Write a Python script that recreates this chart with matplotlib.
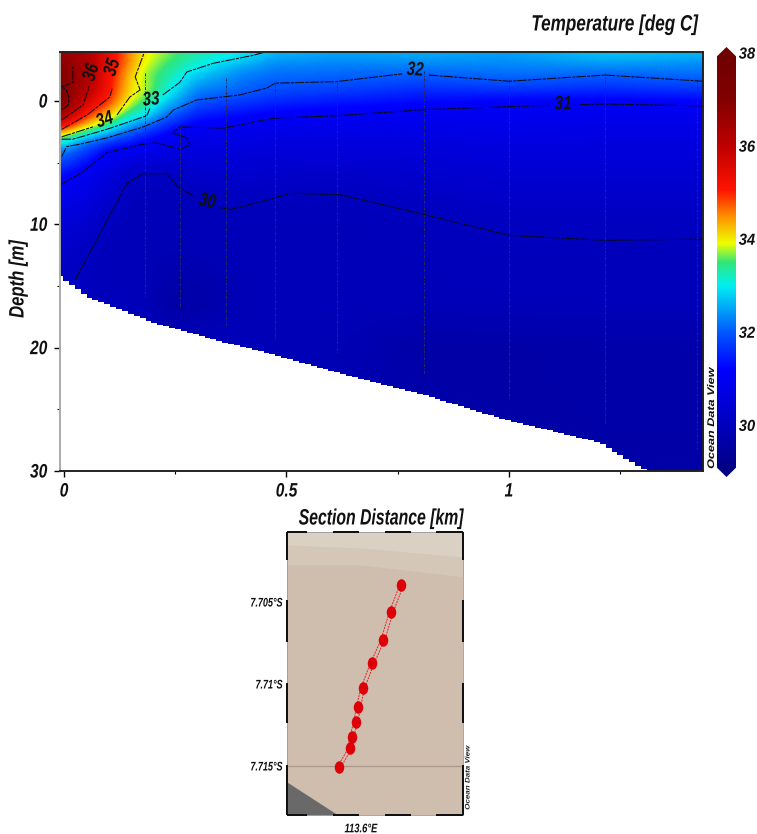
import numpy as np
import matplotlib
matplotlib.use("Agg")
import matplotlib.pyplot as plt
from matplotlib.colors import LinearSegmentedColormap
from matplotlib.markers import MarkerStyle
from matplotlib.patches import Polygon, Rectangle
from matplotlib.patheffects import AbstractPathEffect
from matplotlib.transforms import Affine2D

FONT = 'Liberation Sans'
TXT = dict(family=FONT, fontweight='bold', fontstyle='italic', color='#111111')


class Squeeze(AbstractPathEffect):
    """Condense a text horizontally about a fraction of its own width."""
    def __init__(self, sx, anchor=0.5):
        super().__init__()
        self.sx, self.anchor = sx, anchor

    def draw_path(self, renderer, gc, tpath, affine, rgbFace=None):
        e = tpath.get_extents()
        a = e.x0 + self.anchor * e.width
        t = Affine2D().translate(-a, 0).scale(self.sx, 1).translate(a, 0) + affine
        renderer.draw_path(gc, tpath, t, rgbFace)


def squeeze(t, sx, anchor=0.5):
    t.set_path_effects([Squeeze(sx, anchor)])
    return t


# ---------- section data ----------
field_x = [-0.009, 0.05, 0.10, 0.15, 0.18, 0.23, 0.30, 0.40, 0.47, 0.61, 0.81, 1.0, 1.22, 1.436]
field_z = [-4, -3, -2, -1, 0, 1, 2, 3, 4, 6, 8, 10, 12, 16, 20, 30]
t_m4 = [36.6, 36.3, 35.4, 34.45, 34.0, 33.7, 33.3, 33.05, 32.7, 32.55, 32.6, 32.5, 32.8, 32.7]
t_m3 = [36.9, 36.3, 35.35, 34.4, 33.9, 33.5, 33.1, 32.6, 32.3, 32.25, 32.3, 32.3, 32.4, 32.3]
t_m2 = [37.0, 36.3, 35.2, 34.1, 33.7, 33.3, 32.7, 32.2, 32.1, 32.05, 31.97, 32.1, 31.97, 32.1]
t_m1 = [37.1, 36.2, 35.15, 34.05, 33.9, 33.15, 32.3, 32.1, 31.9, 31.8, 31.6, 31.7, 31.6, 31.7]
t_00 = [37.2, 35.7, 34.9, 33.85, 33.5, 32.8, 31.95, 31.7, 31.55, 31.4, 31.25, 31.1, 31.1, 31.15]
t_01 = [36.5, 35.1, 34.3, 33.35, 33.1, 32.2, 31.5, 31.3, 31.15, 31.05, 30.95, 30.95, 30.9, 30.9]
t_02 = [35.4, 34.2, 33.3, 32.4, 32.1, 31.5, 31.05, 30.95, 30.85, 30.85, 30.8, 30.8, 30.75, 30.75]
t_03 = [33.5, 32.5, 32.0, 31.6, 31.3, 31.0, 30.75, 30.7, 30.65, 30.65, 30.65, 30.7, 30.65, 30.65]
t_04 = [32.3, 31.7, 31.05, 30.95, 30.85, 30.7, 30.6, 30.55, 30.5, 30.5, 30.5, 30.55, 30.55, 30.55]
t_06 = [31.3, 30.9, 30.6, 30.1, 30.05, 30.05, 30.25, 30.3, 30.25, 30.2, 30.3, 30.35, 30.35, 30.35]
t_08 = [30.8, 30.6, 30.3, 29.97, 29.95, 29.92, 29.98, 30.03, 30.0, 29.98, 30.1, 30.2, 30.2, 30.2]
t_10 = [30.5, 30.3, 30.0, 29.93, 29.92, 29.9, 29.92, 29.94, 29.94, 29.94, 29.97, 30.05, 30.05, 30.05]
t_12 = [30.25, 30.05, 29.95, 29.92, 29.9, 29.85, 29.88, 29.92, 29.92, 29.92, 29.95, 29.98, 29.98, 29.98]
t_16 = [30.0, 29.97, 29.95, 29.95, 29.92, 29.62, 29.62, 29.88, 29.92, 29.93, 29.93, 29.95, 29.95, 29.95]
t_20 = [29.95, 29.93, 29.93, 29.93, 29.93, 29.9, 29.93, 29.92, 29.9, 29.85, 29.62, 29.62, 29.68, 29.68]
t_30 = [29.9, 29.9, 29.9, 29.9, 29.9, 29.9, 29.9, 29.9, 29.9, 29.9, 29.7, 29.62, 29.62, 29.62]
temp_rows = [t_m4, t_m3, t_m2, t_m1, t_00, t_01, t_02, t_03, t_04, t_06, t_08, t_10, t_12, t_16, t_20, t_30]

bottom_x = [-0.009, 0.054, 0.13, 0.204, 0.323, 0.364, 0.474, 0.613, 0.665, 0.816, 0.987, 1.204, 1.31, 1.436]
bottom_z = [14.2, 15.9, 16.95, 18.0, 19.2, 19.6, 20.6, 22.0, 22.5, 23.9, 25.8, 27.7, 30.0, 31.5]

station_x = [0.182, 0.261, 0.364, 0.474, 0.613, 0.809, 1.0, 1.216, 1.422]
station_top = [-2.3, 2.0, -1.9, -1.5, -1.5, -2.4, -1.7, -2.3, -1.7]
station_bot = [15.9, 16.8, 18.2, 19.3, 20.5, 22.1, 24.2, 26.3, 28.2]

n = np.nan
iso30_x = [0.025, 0.073, 0.141, 0.178, 0.231, 0.254, 0.29, n, 0.345, 0.373, 0.47, 0.508, 0.62, 0.809, 1.0, 1.216, 1.436]
iso30_z = [14.5, 11.3, 6.7, 5.9, 5.9, 6.9, 7.7, n, 8.6, 8.8, 7.9, 7.5, 7.6, 9.2, 10.9, 11.3, 11.2]
iso31_x = [-0.009, 0.036, 0.096, 0.178, 0.208, 0.26, 0.283, 0.276, 0.244, 0.26, 0.358, 0.47, 0.613, 0.809, 1.09, n, 1.16, 1.216, 1.436]
iso31_z = [6.8, 5.9, 4.2, 3.5, 3.4, 3.9, 3.6, 3.0, 2.6, 2.1, 2.2, 1.4, 1.2, 0.7, 0.35, n, 0.3, 0.25, 0.4]
iso32_x = [-0.005, 0.006, 0.036, 0.096, 0.178, 0.231, 0.246, 0.298, 0.395, 0.456, 0.474, 0.613, 0.76, n, 0.82, 1.0, 1.216, 1.436]
iso32_z = [4.5, 3.7, 3.5, 3.0, 2.1, 1.3, 0.73, -0.08, -0.49, -1.05, -1.44, -1.57, -2.2, n, -2.1, -1.6, -2.1, -1.6]
iso33_x = [-0.005, 0.02, 0.096, 0.186, 0.193, n, 0.222, 0.26, 0.276, 0.335, 0.425, 0.45]
iso33_z = [3.1, 3.1, 2.3, 1.2, 0.6, n, -0.49, -1.5, -2.35, -3.05, -3.7, -3.95]
iso34_x = [-0.005, 0.065, n, 0.119, 0.148, 0.171, 0.16, 0.178, 0.18]
iso34_z = [2.9, 2.1, n, 1.13, -0.32, -0.9, -1.95, -3.7, -3.95]
iso35_x = [-0.005, 0.052, 0.103, 0.108, n, 0.119]
iso35_z = [2.3, 1.13, -0.32, -1.0, n, -3.5]
iso36_x = [-0.005, 0.043, 0.054, 0.056, n, 0.07]
iso36_z = [1.54, 0.32, -0.9, -1.2, n, -3.0]
iso37_x = [-0.005, 0.01, 0.011, 0.005, -0.005, n, -0.005, 0.02, 0.02]
iso37_z = [0.73, 0.32, -0.32, -0.9, -1.15, n, -1.15, -1.5, -2.8]

iso_label_text = ['36', '35', '34', '33', '32', '31', '30']
iso_label_x = [0.063, 0.110, 0.092, 0.196, 0.789, 1.122, 0.322]
iso_label_z = [-2.3, -2.7, 1.6, -0.05, -2.45, 0.3, 8.2]
iso_label_rot = [72, 72, 18, 5, -4, 0, -12]

# ---------- map data ----------
st_lon = [113.60246, 113.60185, 113.60132, 113.60069, 113.60010, 113.59984, 113.59968, 113.59943, 113.59935, 113.59866]
st_lat = [-7.70398, -7.70559, -7.70732, -7.70872, -7.71026, -7.71142, -7.71234, -7.71321, -7.7139, -7.71508]
band_lon = [113.5955, 113.6, 113.6062]
band1_lat = [-7.70152, -7.70170, -7.70225]
band2_lat = [-7.70274, -7.70274, -7.70347]
shore_lon = [113.5955, 113.5986]
shore_lat = [-7.71598, -7.71799]
map_yticks = [-7.705, -7.71, -7.715]
map_ylabels = ['7.705°S', '7.71°S', '7.715°S']

# ---------- colour scale ----------
cb_vals = [29, 30, 31.2, 32, 33, 33.5, 33.9, 34.5, 35.05, 36, 37, 38]
cb_cols = ['#000082', '#0000BE', '#0000FF', '#005AFF', '#00F0F0', '#32E678', '#F0FF00',
           '#FF8C00', '#FF1400', '#BE0000', '#820000', '#6E0000']
cb_ticks = [30, 32, 34, 36, 38]
vmin, vmax = 28.88, 38.12
cmap = LinearSegmentedColormap.from_list(
    'odv', [((v - vmin) / (vmax - vmin), c) for v, c in
            zip([vmin] + cb_vals + [vmax], [cb_cols[0]] + cb_cols + [cb_cols[-1]])], N=512)

W, H = 757, 834
fig = plt.figure(figsize=(W / 100, H / 100), dpi=100)
def axpx(l, t, r, b, **k):
    return fig.add_axes([l / W, 1 - b / H, (r - l) / W, (b - t) / H], **k)

# ---------- section ----------
ax = axpx(60, 52, 703, 471)
fx = np.linspace(field_x[0], field_x[-1], 643)
fz = np.linspace(field_z[0], field_z[-1], 426)
T = np.array(temp_rows)
Tx = np.array([np.interp(fx, field_x, r) for r in T])
Tf = np.array([np.interp(fz, field_z, c) for c in Tx.T]).T
kern = np.ones(13) / 13
pad = 6
for axis in (0, 1, 0, 1):
    P = np.pad(Tf, [(pad, pad) if i == axis else (0, 0) for i in (0, 1)], mode='edge')
    Tf = np.apply_along_axis(lambda v: np.convolve(v, kern, mode='valid'), axis, P)
ax.imshow(Tf, cmap=cmap, vmin=vmin, vmax=vmax, aspect='auto', interpolation='bilinear',
          extent=[field_x[0], field_x[-1], field_z[-1], field_z[0]], zorder=1)
bx = np.linspace(bottom_x[0], bottom_x[-1], 110)
bz = np.interp(bx, bottom_x, bottom_z)
ax.fill_between(bx, bz, 32, step='mid', color='white', lw=0, zorder=2)
ax.fill_between([bx[0] - .01, bx[0]], [bz[0]] * 2, 32, color='white', lw=0, zorder=2)
for sx, st, sb in zip(station_x, station_top, station_bot):
    ax.plot([sx, sx], [st, sb], color='#2c2c5a', lw=0.7, ls=(0, (3, 1.5, 1, 1.5)), zorder=3)
for xs, zs in [(iso30_x, iso30_z), (iso31_x, iso31_z), (iso32_x, iso32_z), (iso33_x, iso33_z),
               (iso34_x, iso34_z), (iso35_x, iso35_z), (iso36_x, iso36_z), (iso37_x, iso37_z)]:
    ax.plot(xs, zs, color='#0a0a14', lw=0.75, ls=(0, (9, 1.2, 3, 1)), zorder=4)
for s, x, z, r in zip(iso_label_text, iso_label_x, iso_label_z, iso_label_rot):
    squeeze(ax.text(x, z, s, rotation=r, ha='center', va='center', fontsize=14, zorder=5, **TXT), .78)
ax.set_xlim(-0.009, 1.436)
ax.set_ylim(30, -3.97)
ax.set_xticks([0, 0.5, 1])
ax.set_xticklabels(['0', '0.5', '1'], fontsize=14, **TXT)
ax.set_xticks([0.25, 0.75, 1.25], minor=True)
ax.set_yticks([0, 10, 20, 30])
ax.set_yticklabels(['0', '10', '20', '30'], fontsize=14, **TXT)
ax.set_yticks([5, 15, 25], minor=True)
ax.tick_params(which='major', length=4, width=1, pad=5)
ax.tick_params(which='minor', length=2.5, width=.8)
for t in ax.get_xticklabels():
    squeeze(t, .8)
for t in ax.get_yticklabels():
    squeeze(t, .8, 1)
for k, s in ax.spines.items():
    s.set_linewidth(1.4)
    s.set_color('#AAAAAA' if k == 'left' else '#222222')
    s.set_zorder(6)
squeeze(fig.text(698 / W, 1 - 25 / H, 'Temperature [deg C]', ha='right', va='center', fontsize=16, **TXT), .77, 1)
squeeze(fig.text(18 / W, 1 - 279 / H, 'Depth [m]', rotation=90, ha='center', va='center', fontsize=15, **TXT), .8)
squeeze(fig.text(381 / W, 1 - 519 / H, 'Section Distance [km]', ha='center', va='center', fontsize=16, **TXT), .71)
squeeze(fig.text(711 / W, 1 - 418 / H, 'Ocean Data View', rotation=90, ha='center', va='center',
                 fontsize=7, **TXT), 1.3)

# ---------- colour bar ----------
cax = axpx(717, 47, 736, 477)
grad = np.linspace(vmax, vmin, 512).reshape(-1, 1)
im = cax.imshow(grad, cmap=cmap, vmin=vmin, vmax=vmax, aspect='auto', extent=[0, 1, vmin, vmax])
outline = Polygon([(0, 29.08), (0.5, vmin), (1, 29.08), (1, 37.92), (0.5, vmax), (0, 37.92)],
                  closed=True, transform=cax.transData, fc='none', ec='none')
cax.add_patch(outline)
im.set_clip_path(outline)
cax.set_xlim(0, 1)
cax.set_ylim(vmin, vmax)
cax.set_xticks([])
cax.yaxis.tick_right()
cax.set_yticks(cb_ticks)
cax.set_yticklabels([str(v) for v in cb_ticks], fontsize=11.5, **TXT)
cax.tick_params(length=0, pad=2)
for t in cax.get_yticklabels():
    squeeze(t, .92, 0)
for s in cax.spines.values():
    s.set_visible(False)

# ---------- map ----------
m = axpx(287, 532, 463, 815)
m.set_facecolor('#CFBDAE')
lon0, lon1 = 113.5955, 113.6062
lat0, lat1 = -7.71799, -7.70073
m.fill_between(band_lon, band2_lat, lat1, color='#D4C7B8', lw=0, zorder=1)
m.fill_between(band_lon, band1_lat, lat1, color='#DAD0C4', lw=0, zorder=1.1)
m.fill_between(shore_lon, shore_lat, lat0, color='#696969', lw=0, zorder=1.2)
m.axhline(-7.715, color='#AD9A8C', lw=1, zorder=1.5)
for off in (-0.00013, 0.00013):
    m.plot(np.array(st_lon) + off, np.array(st_lat) + off * 0.3, color='#E8202A', lw=0.7,
           ls=(0, (2, 1)), zorder=2)
tall = MarkerStyle('o', transform=Affine2D().scale(.72, .95))
m.plot(st_lon, st_lat, ls='none', marker=tall, ms=9.5, mfc='#DD0008', mec='#DD0008', mew=0, zorder=3)
m.set_xlim(lon0, lon1)
m.set_ylim(lat0, lat1)
m.set_xticks([113.6])
m.set_xticklabels(['113.6°E'], fontsize=9, **TXT)
m.set_yticks(map_yticks)
m.set_yticklabels(map_ylabels, fontsize=9, **TXT)
m.tick_params(length=0, pad=3)
m.tick_params(axis='x', pad=6)
for t in m.get_xticklabels():
    squeeze(t, .75)
for t in m.get_yticklabels():
    squeeze(t, .72, 1)
for s in m.spines.values():
    s.set_linewidth(0.6)
    s.set_color('#999999')
for a, b in [(0, .113), (.264, .411), (.557, .706), (.849, 1)]:
    for y in (1, 0):
        m.add_patch(Rectangle((a, y - .005), b - a, .01, transform=m.transAxes, fc='#111111', ec='none',
                              clip_on=False, zorder=7))
for a, b in [(0, .1), (.241, .388), (.535, .676), (.824, 1)]:
    for x in (0, 1):
        m.add_patch(Rectangle((x - .008, 1 - b), .016, b - a, transform=m.transAxes, fc='#111111', ec='none',
                              clip_on=False, zorder=7))
squeeze(fig.text(468 / W, 1 - 778 / H, 'Ocean Data View', rotation=90, ha='center', va='center',
                 fontsize=4.8, color='#222222', family=FONT, fontweight='bold', fontstyle='italic'), 1.2)

fig.savefig('out.png', dpi=100)
